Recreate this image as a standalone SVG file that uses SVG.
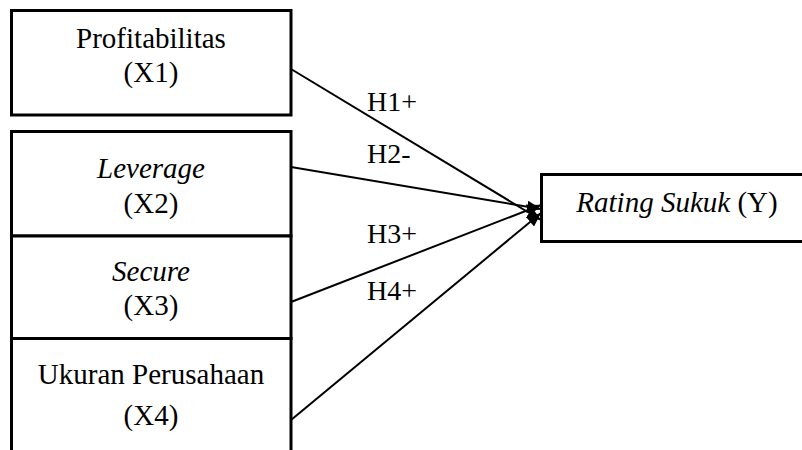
<svg xmlns="http://www.w3.org/2000/svg" width="802" height="450" viewBox="0 0 802 450">
<defs>
<style>
.box{fill:#fff;stroke:#000;stroke-width:3}
.t{font-family:"Liberation Serif","Times New Roman",serif;font-size:29px;fill:#000;text-anchor:middle}
.l{font-family:"Liberation Serif","Times New Roman",serif;font-size:28px;fill:#000}
.i{font-style:italic}
.c{stroke:#000;stroke-width:2;fill:none;marker-end:url(#ah)}
</style>
<marker id="ah" viewBox="0 0 14 12" refX="14" refY="6" markerWidth="14" markerHeight="12" markerUnits="userSpaceOnUse" orient="auto">
<path d="M0,0 L14,6 L0,12 Z" fill="#000"/>
</marker>
</defs>
<rect width="802" height="450" fill="#fff"/>
<g id="connectors">
<line class="c" x1="291" y1="69" x2="541" y2="220"/>
<line class="c" x1="291" y1="167" x2="541" y2="209"/>
<line class="c" x1="291" y1="302" x2="541" y2="205"/>
<line class="c" x1="291" y1="420" x2="541" y2="213"/>
<text class="l" x="367" y="111">H1+</text>
<text class="l" x="367" y="163">H2-</text>
<text class="l" x="367" y="243">H3+</text>
<text class="l" x="367" y="300">H4+</text>
</g>
<g id="x1">
<rect class="box" x="11.5" y="10.5" width="279.5" height="104.5"/>
<text class="t" x="151" y="48">Profitabilitas</text>
<text class="t" x="151" y="82">(X1)</text>
</g>
<g id="x2">
<rect class="box" x="11.5" y="131.5" width="279.5" height="104.5"/>
<text class="t i" x="151" y="178">Leverage</text>
<text class="t" x="151" y="213">(X2)</text>
</g>
<g id="x3">
<rect class="box" x="11.5" y="236" width="279.5" height="102.5"/>
<text class="t i" x="151" y="281">Secure</text>
<text class="t" x="151" y="315">(X3)</text>
</g>
<g id="x4">
<path d="M11.5,455 V338.5 H291 V455" fill="#fff" stroke="#000" stroke-width="3"/>
<text class="t" x="151" y="384">Ukuran Perusahaan</text>
<text class="t" x="151" y="425">(X4)</text>
</g>
<g id="y">
<rect class="box" x="541.5" y="174.5" width="275" height="67"/>
<text class="t" x="677" y="212"><tspan class="i">Rating Sukuk</tspan> (Y)</text>
</g>
</svg>
